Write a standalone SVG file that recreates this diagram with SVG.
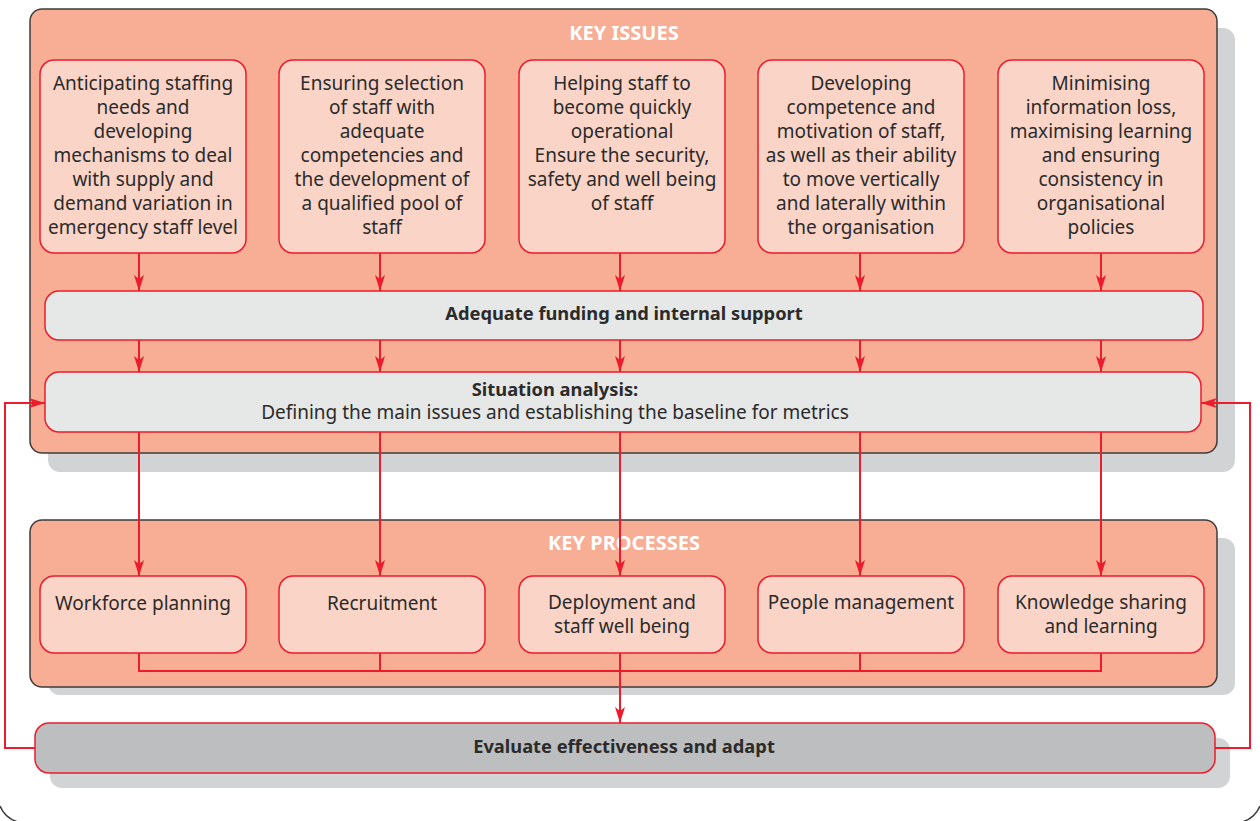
<svg xmlns="http://www.w3.org/2000/svg" width="1260" height="821" viewBox="0 0 1260 821">
<defs>
<marker id="ah" markerUnits="userSpaceOnUse" viewBox="0 0 16 10" refX="16" refY="5" markerWidth="16" markerHeight="10" orient="auto">
<path d="M0,0 L16,5 L0,10 L4,5 z" fill="#ec1c2d"/>
</marker>
<style>
.panel{fill:#f8ad95;stroke:#3c3c3c;stroke-width:1.5}
.shadow{fill:#d2d3d5}
.box{fill:#fad4c7;stroke:#ec1c2d;stroke-width:1.5}
.bar{fill:#e6e7e7;stroke:#ec1c2d;stroke-width:1.5}
.evb{fill:#bdbec0;stroke:#ec1c2d;stroke-width:1.5}
.t{font-family:"Noto Sans","Open Sans",sans-serif;font-size:19px;fill:#2b2b2b;text-anchor:middle}
.b{font-family:"Noto Sans","Open Sans",sans-serif;font-size:18.3px;font-weight:bold;fill:#2b2b2b;text-anchor:middle}
.h{font-family:"Noto Sans","Open Sans",sans-serif;font-size:20px;font-weight:bold;fill:#ffffff;text-anchor:middle}
.c{fill:none;stroke:#ec1c2d;stroke-width:2}
.ca{fill:none;stroke:#ec1c2d;stroke-width:2;marker-end:url(#ah)}
</style>
</defs>
<rect width="1260" height="821" fill="#ffffff"/>
<path d="M0,806 A28,28 0 0 0 18,822 M1242,822 A28,28 0 0 0 1260,806" fill="none" stroke="#3c3c3c" stroke-width="1.5"/>

<g id="key-issues-panel">
<rect class="shadow" x="48" y="28" width="1187" height="444" rx="12"/>
<rect class="panel" x="30" y="9" width="1187" height="444" rx="12"/>
<text class="h" x="624" y="40">KEY ISSUES</text>
</g>

<g id="key-processes-panel">
<rect class="shadow" x="48" y="538" width="1187" height="157" rx="12"/>
<rect class="panel" x="30" y="520" width="1187" height="167" rx="12"/>
<text class="h" x="624" y="550">KEY PROCESSES</text>
</g>

<g id="issue1">
<rect class="box" x="40" y="60" width="206" height="193" rx="14"/>
<text class="t" x="143" y="90"><tspan x="143">Anticipating staffing</tspan><tspan x="143" dy="24">needs and</tspan><tspan x="143" dy="24">developing</tspan><tspan x="143" dy="24">mechanisms to deal</tspan><tspan x="143" dy="24">with supply and</tspan><tspan x="143" dy="24">demand variation in</tspan><tspan x="143" dy="24">emergency staff level</tspan></text>
</g>
<g id="issue2">
<rect class="box" x="279" y="60" width="206" height="193" rx="14"/>
<text class="t" x="382" y="90"><tspan x="382">Ensuring selection</tspan><tspan x="382" dy="24">of staff with</tspan><tspan x="382" dy="24">adequate</tspan><tspan x="382" dy="24">competencies and</tspan><tspan x="382" dy="24">the development of</tspan><tspan x="382" dy="24">a qualified pool of</tspan><tspan x="382" dy="24">staff</tspan></text>
</g>
<g id="issue3">
<rect class="box" x="519" y="60" width="206" height="193" rx="14"/>
<text class="t" x="622" y="90"><tspan x="622">Helping staff to</tspan><tspan x="622" dy="24">become quickly</tspan><tspan x="622" dy="24">operational</tspan><tspan x="622" dy="24">Ensure the security,</tspan><tspan x="622" dy="24">safety and well being</tspan><tspan x="622" dy="24">of staff</tspan></text>
</g>
<g id="issue4">
<rect class="box" x="758" y="60" width="206" height="193" rx="14"/>
<text class="t" x="861" y="90"><tspan x="861">Developing</tspan><tspan x="861" dy="24">competence and</tspan><tspan x="861" dy="24">motivation of staff,</tspan><tspan x="861" dy="24">as well as their ability</tspan><tspan x="861" dy="24">to move vertically</tspan><tspan x="861" dy="24">and laterally within</tspan><tspan x="861" dy="24">the organisation</tspan></text>
</g>
<g id="issue5">
<rect class="box" x="998" y="60" width="206" height="193" rx="14"/>
<text class="t" x="1101" y="90"><tspan x="1101">Minimising</tspan><tspan x="1101" dy="24">information loss,</tspan><tspan x="1101" dy="24">maximising learning</tspan><tspan x="1101" dy="24">and ensuring</tspan><tspan x="1101" dy="24">consistency in</tspan><tspan x="1101" dy="24">organisational</tspan><tspan x="1101" dy="24">policies</tspan></text>
</g>

<g id="funding">
<rect class="bar" x="45" y="291" width="1158" height="49" rx="14"/>
<text class="b" x="624" y="320">Adequate funding and internal support</text>
</g>

<g id="situation">
<rect class="bar" x="45" y="372" width="1156" height="60" rx="14"/>
<text class="b" x="555" y="396">Situation analysis:</text>
<text class="t" x="555" y="419">Defining the main issues and establishing the baseline for metrics</text>
</g>

<g id="proc1">
<rect class="box" x="40" y="576" width="206" height="77" rx="14"/>
<text class="t" x="143" y="610">Workforce planning</text>
</g>
<g id="proc2">
<rect class="box" x="279" y="576" width="206" height="77" rx="14"/>
<text class="t" x="382" y="610">Recruitment</text>
</g>
<g id="proc3">
<rect class="box" x="519" y="576" width="206" height="77" rx="14"/>
<text class="t" x="622" y="609"><tspan x="622">Deployment and</tspan><tspan x="622" dy="24">staff well being</tspan></text>
</g>
<g id="proc4">
<rect class="box" x="758" y="576" width="206" height="77" rx="14"/>
<text class="t" x="861" y="609">People management</text>
</g>
<g id="proc5">
<rect class="box" x="998" y="576" width="206" height="77" rx="14"/>
<text class="t" x="1101" y="609"><tspan x="1101">Knowledge sharing</tspan><tspan x="1101" dy="24">and learning</tspan></text>
</g>

<g id="evaluate">
<rect class="shadow" x="50" y="738" width="1180" height="50" rx="12"/>
<rect class="evb" x="35" y="723" width="1180" height="50" rx="14"/>
<text class="b" x="624" y="753">Evaluate effectiveness and adapt</text>
</g>

<g id="connectors">
<path class="ca" d="M139,253 V291"/>
<path class="ca" d="M380,253 V291"/>
<path class="ca" d="M620,253 V291"/>
<path class="ca" d="M860,253 V291"/>
<path class="ca" d="M1101,253 V291"/>
<path class="ca" d="M139,340 V372"/>
<path class="ca" d="M380,340 V372"/>
<path class="ca" d="M620,340 V372"/>
<path class="ca" d="M860,340 V372"/>
<path class="ca" d="M1101,340 V372"/>
<path class="ca" d="M139,432 V576"/>
<path class="ca" d="M380,432 V576"/>
<path class="ca" d="M620,432 V576"/>
<path class="ca" d="M860,432 V576"/>
<path class="ca" d="M1101,432 V576"/>
<path class="c" d="M139,653 V671 H1101 V653 M380,653 V671 M860,653 V671 M620,653 V671"/>
<path class="ca" d="M620,671 V723"/>
<path class="ca" d="M35,748 H5 V403 H45"/>
<path class="ca" d="M1215,748 H1250 V403 H1201"/>
</g>
</svg>
